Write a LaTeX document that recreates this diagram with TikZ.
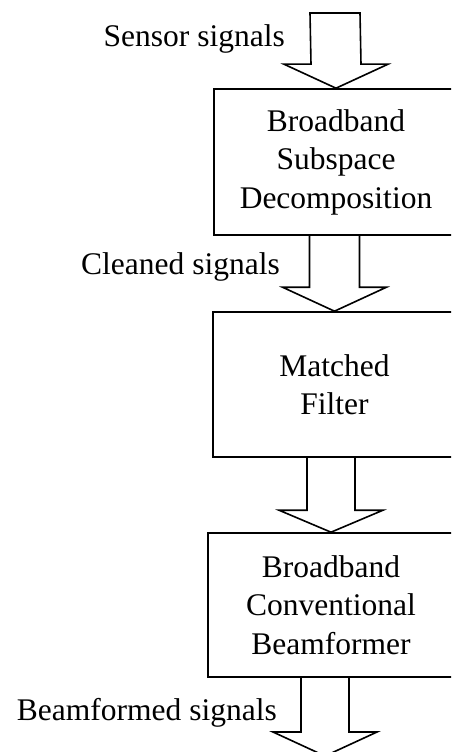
\documentclass[tikz,border=0pt]{standalone}
\usepackage{fontspec}
\setmainfont{Liberation Serif}
\usetikzlibrary{calc}
\begin{document}
\begin{tikzpicture}[x=1pt,y=-1pt,
  every node/.style={font=\fontsize{31.5}{38.5}\selectfont},
  blk/.style={draw=black,line width=1.6pt,inner sep=0pt,align=center},
  lbl/.style={inner sep=0pt,anchor=base east},
  fat/.style={draw=black,line width=1.6pt,line join=miter}]
\clip (0,0) rectangle (451,752);
\node[blk,minimum width=244pt,minimum height=146pt] (b1) at (336,162) {Broadband\\Subspace\\Decomposition};
\node[blk,minimum width=243pt,minimum height=145pt] (b2) at (334.5,384.5) {Matched\\Filter};
\node[blk,minimum width=246pt,minimum height=144pt] (b3) at (331,605) {Broadband\\Conventional\\Beamformer};
\coordinate (in) at (335,13);
\coordinate (out) at (325,756);
\node[lbl] (l1) at (285,47) {Sensor signals};
\node[lbl] (l2) at (280,274) {Cleaned signals};
\node[lbl] (l3) at (277,720) {Beamformed signals};
% arrow 1 (closed top)
\draw[fat] ($(in)+(-25,0)$) -- ($(b1.north)+(-25,-24)$) -- ($(b1.north)+(-52,-24)$) -- (b1.north)
  -- ($(b1.north)+(52,-24)$) -- ($(b1.north)+(25,-24)$) -- ($(in)+(25,0)$) -- cycle;
% arrow 2
\draw[fat] ($(b1.south -| b2.north)+(-25,0)$) -- ($(b2.north)+(-25,-24)$) -- ($(b2.north)+(-52,-24)$) -- (b2.north)
  -- ($(b2.north)+(52,-24)$) -- ($(b2.north)+(25,-24)$) -- ($(b1.south -| b2.north)+(25,0)$);
% arrow 3
\draw[fat] ($(b2.south -| b3.north)+(-24,0)$) -- ($(b3.north)+(-24,-22)$) -- ($(b3.north)+(-52,-22)$) -- (b3.north)
  -- ($(b3.north)+(52,-22)$) -- ($(b3.north)+(24,-22)$) -- ($(b2.south -| b3.north)+(24,0)$);
% arrow 4
\draw[fat] ($(b3.south -| out)+(-24,0)$) -- ($(out)+(-24,-24)$) -- ($(out)+(-52,-24)$) -- (out)
  -- ($(out)+(52,-24)$) -- ($(out)+(24,-24)$) -- ($(b3.south -| out)+(24,0)$);
\end{tikzpicture}
\end{document}
